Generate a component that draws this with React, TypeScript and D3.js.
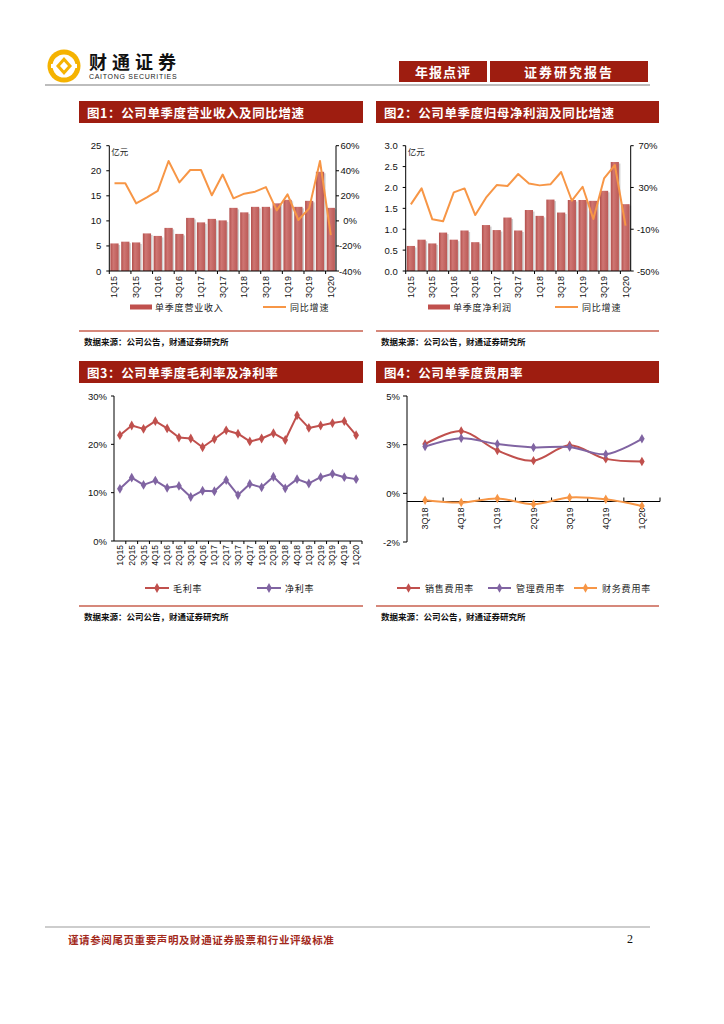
import React from "react";
import * as d3 from "d3";

const quarters = ["1Q15", "2Q15", "3Q15", "4Q15", "1Q16", "2Q16", "3Q16", "4Q16", "1Q17", "2Q17", "3Q17", "4Q17", "1Q18", "2Q18", "3Q18", "4Q18", "1Q19", "2Q19", "3Q19", "4Q19", "1Q20"];

// 图1
const revenue = [5.5, 5.85, 5.7, 7.5, 7.0, 8.6, 7.4, 10.6, 9.7, 10.4, 10.1, 12.6, 11.7, 12.8, 12.8, 13.5, 14.2, 12.8, 14.0, 19.8, 12.6];
const revenueYoy = [30, 30, 14, 18.8, 24, 47.8, 30.7, 40.6, 40.6, 20.4, 37, 18, 21.7, 23.3, 27, 8.4, 21.2, 0.7, 10, 47.8, -11.3];
const revenueTicks = [0, 5, 10, 15, 20, 25];
const revenueYoyTicks = [-40, -20, 0, 20, 40, 60];

// 图2
const netProfit = [0.6, 0.75, 0.66, 0.92, 0.75, 0.97, 0.69, 1.1, 0.98, 1.28, 0.97, 1.46, 1.32, 1.71, 1.4, 1.7, 1.7, 1.68, 1.92, 2.61, 1.6];
const netProfitYoy = [13.8, 29.1, -0.5, -2.4, 25.3, 29.1, 3.6, 20.2, 32.3, 31.4, 42.9, 33.9, 32, 33, 44.8, 17.3, 30.7, -0.2, 38.7, 51.5, -6.6];
const netProfitTicks = [0, 0.5, 1, 1.5, 2, 2.5, 3];
const netProfitYoyTicks = [-50, -10, 30, 70];

// 图3
const grossMargin = [21.9, 23.9, 23.2, 24.8, 23.3, 21.4, 21.2, 19.4, 21.1, 22.9, 22.2, 20.6, 21.2, 22.3, 20.9, 26.0, 23.4, 23.9, 24.4, 24.8, 21.9];
const netMargin = [10.8, 13.1, 11.6, 12.5, 11.0, 11.4, 9.1, 10.4, 10.3, 12.6, 9.5, 11.8, 11.1, 13.3, 10.9, 12.8, 11.9, 13.2, 13.9, 13.2, 12.8];
const marginTicks = [0, 10, 20, 30];

// 图4
const recentQuarters = ["3Q18", "4Q18", "1Q19", "2Q19", "3Q19", "4Q19", "1Q20"];
const sellingRate = [2.53, 3.2, 2.2, 1.68, 2.47, 1.77, 1.64];
const adminRate = [2.4, 2.83, 2.53, 2.36, 2.38, 2.01, 2.8];
const financeRate = [-0.35, -0.47, -0.26, -0.56, -0.21, -0.31, -0.65];
const rateTickValues = [-2.5, 0, 2.5, 5];
const rateTickLabels = ["-2%", "0%", "3%", "5%"];

const NUM = "'Liberation Sans', Arial, sans-serif";
const CN = "'Noto Sans CJK SC', 'Noto Sans CJK JP', sans-serif";
const BANNER = "#9e1d10";
const RED = "#c0504d";
const PURPLE = "#8064a2";
const ORANGE = "#f79646";

function Banner({ x, y, w, title }: { x: number; y: number; w: number; title: string }) {
  return (
    <g>
      <rect x={x} y={y} width={w} height={22} fill={BANNER} />
      <text x={x + 8} y={y + 11.5} fill="#fff" fontFamily={CN} fontSize={12.5} fontWeight={700} dominantBaseline="central" letterSpacing={0.6}>
        {title}
      </text>
    </g>
  );
}

function Source({ x, y, w }: { x: number; y: number; w: number }) {
  return (
    <g>
      <line x1={x} x2={x + w} y1={y} y2={y} stroke="#c8604f" strokeWidth={1.5} />
      <text x={x + 5} y={y + 10} fontFamily={CN} fontSize={8.5} fontWeight={700} fill="#111" dominantBaseline="central">
        数据来源：公司公告，财通证券研究所
      </text>
    </g>
  );
}

function BarLineChart({
  left, right, top, bottom, bars, line, barTicks, lineTicks, barFmt, lineLabelX, barLabel, legendBarX, legendLineX,
}: {
  left: number; right: number; top: number; bottom: number;
  bars: number[]; line: number[]; barTicks: number[]; lineTicks: number[];
  barFmt: (v: number) => string; lineLabelX: number; barLabel: string;
  legendBarX: number; legendLineX: number;
}) {
  const x = d3.scaleBand<string>().domain(quarters).range([left, right]).paddingInner(0.24).paddingOuter(0.1);
  const y = d3.scaleLinear().domain([barTicks[0], barTicks[barTicks.length - 1]]).range([bottom, top]);
  const y2 = d3.scaleLinear().domain([lineTicks[0], lineTicks[lineTicks.length - 1]]).range([bottom, top]);
  const path = d3.line<number>().x((_, i) => x(quarters[i])! + x.bandwidth() / 2).y((d) => y2(d))(line) ?? "";
  const step = x.step();
  const legendY = bottom + 36;
  return (
    <g>
      {bars.map((v, i) => (
        <rect key={`s${i}`} x={x(quarters[i])! + 1.5} y={y(v) + 1.5} width={x.bandwidth()} height={bottom - y(v) - 1.5} fill="#cfcfcf" />
      ))}
      {bars.map((v, i) => (
        <rect key={`b${i}`} x={x(quarters[i])!} y={y(v)} width={x.bandwidth()} height={bottom - y(v)} fill="url(#barGrad)" />
      ))}
      <path d={path} fill="none" stroke={ORANGE} strokeWidth={2} strokeLinejoin="round" />
      {/* axes */}
      <line x1={left} x2={left} y1={top} y2={bottom} stroke="#000" />
      <line x1={right} x2={right} y1={top} y2={bottom} stroke="#000" />
      <line x1={left} x2={right} y1={bottom} y2={bottom} stroke="#000" />
      {barTicks.map((t) => (
        <g key={`l${t}`}>
          <line x1={left - 3} x2={left} y1={y(t)} y2={y(t)} stroke="#000" />
          <text x={left - 8} y={y(t)} textAnchor="end" dominantBaseline="central" fontFamily={NUM} fontSize={9.5} fill="#111">
            {barFmt(t)}
          </text>
        </g>
      ))}
      {lineTicks.map((t) => (
        <g key={`r${t}`}>
          <line x1={right} x2={right + 3} y1={y2(t)} y2={y2(t)} stroke="#000" />
          <text x={lineLabelX} y={y2(t)} textAnchor="middle" dominantBaseline="central" fontFamily={NUM} fontSize={9.5} fill="#111">
            {`${t}%`}
          </text>
        </g>
      ))}
      {quarters.map((q, i) =>
        i % 2 === 0 ? (
          <g key={q}>
            <line x1={left + step * i} x2={left + step * i} y1={bottom} y2={bottom + 3} stroke="#000" />
            <text
              transform={`translate(${x(q)! + x.bandwidth() / 2},${bottom + 5}) rotate(-90)`}
              textAnchor="end"
              dominantBaseline="central"
              fontFamily={NUM}
              fontSize={9}
              fill="#111"
            >
              {q}
            </text>
          </g>
        ) : null
      )}
      <text x={left + 2} y={top + 5} fontFamily={CN} fontSize={8.5} fill="#222" dominantBaseline="central">亿元</text>
      {/* legend */}
      <rect x={legendBarX} y={legendY - 2.5} width={22} height={5} fill={RED} />
      <text x={legendBarX + 25} y={legendY} fontFamily={CN} fontSize={9} fill="#222" dominantBaseline="central" letterSpacing={0.8}>{barLabel}</text>
      <line x1={legendLineX} x2={legendLineX + 23} y1={legendY} y2={legendY} stroke={ORANGE} strokeWidth={2} />
      <text x={legendLineX + 27} y={legendY} fontFamily={CN} fontSize={9} fill="#222" dominantBaseline="central" letterSpacing={0.8}>同比增速</text>
    </g>
  );
}

function MarginChart() {
  const left = 114, right = 362, top = 396, bottom = 541;
  const x = d3.scaleBand<string>().domain(quarters).range([left, right]);
  const y = d3.scaleLinear().domain([0, 30]).range([bottom, top]);
  const cx = (i: number) => x(quarters[i])! + x.bandwidth() / 2;
  const line = d3.line<number>().x((_, i) => cx(i)).y((d) => y(d));
  const diamond = d3.symbol(d3.symbolDiamond, 28)() ?? "";
  const series = [
    { name: "毛利率", values: grossMargin, color: RED, lx: 145 },
    { name: "净利率", values: netMargin, color: PURPLE, lx: 257 },
  ];
  return (
    <g>
      <line x1={left} x2={left} y1={top} y2={bottom} stroke="#000" />
      <line x1={left} x2={right} y1={bottom} y2={bottom} stroke="#000" />
      {marginTicks.map((t) => (
        <g key={t}>
          <line x1={left - 3} x2={left} y1={y(t)} y2={y(t)} stroke="#000" />
          <text x={left - 7} y={y(t)} textAnchor="end" dominantBaseline="central" fontFamily={NUM} fontSize={9.5} fill="#111">{`${t}%`}</text>
        </g>
      ))}
      {quarters.map((q, i) => (
        <g key={q}>
          <line x1={x(q)! + x.step()} x2={x(q)! + x.step()} y1={bottom} y2={bottom + 3} stroke="#000" />
          <text transform={`translate(${cx(i)},${bottom + 4}) rotate(-90)`} textAnchor="end" dominantBaseline="central" fontFamily={NUM} fontSize={8.5} fill="#111">{q}</text>
        </g>
      ))}
      {series.map((s) => (
        <g key={s.name}>
          <path d={line(s.values) ?? ""} fill="none" stroke={s.color} strokeWidth={2} strokeLinejoin="round" />
          {s.values.map((v, i) => (
            <path key={i} d={diamond} transform={`translate(${cx(i)},${y(v)})`} fill={s.color} />
          ))}
          <line x1={s.lx} x2={s.lx + 24} y1={588} y2={588} stroke={s.color} strokeWidth={2} />
          <path d={diamond} transform={`translate(${s.lx + 12},588)`} fill={s.color} />
          <text x={s.lx + 28} y={588} fontFamily={CN} fontSize={9} fill="#222" dominantBaseline="central" letterSpacing={0.8}>{s.name}</text>
        </g>
      ))}
    </g>
  );
}

function RateChart() {
  const left = 407, right = 660, top = 396, bottom = 542;
  const x = d3.scaleBand<string>().domain(recentQuarters).range([left, right]);
  const y = d3.scaleLinear().domain([rateTickValues[0], rateTickValues[rateTickValues.length - 1]]).range([bottom, top]);
  const axisY = y(-0.42);
  const cx = (i: number) => x(recentQuarters[i])! + x.bandwidth() / 2;
  const line = d3.line<number>().x((_, i) => cx(i)).y((d) => y(d)).curve(d3.curveCatmullRom.alpha(0.5));
  const diamond = d3.symbol(d3.symbolDiamond, 26)() ?? "";
  const series = [
    { name: "销售费用率", values: sellingRate, color: RED, lx: 397 },
    { name: "管理费用率", values: adminRate, color: PURPLE, lx: 488 },
    { name: "财务费用率", values: financeRate, color: ORANGE, lx: 574 },
  ];
  return (
    <g>
      <line x1={left} x2={left} y1={top} y2={bottom} stroke="#000" />
      <line x1={left} x2={right} y1={axisY} y2={axisY} stroke="#000" />
      {rateTickValues.map((t, i) => (
        <g key={t}>
          <line x1={left - 4} x2={left} y1={y(t)} y2={y(t)} stroke="#000" />
          <text x={left - 7} y={y(t)} textAnchor="end" dominantBaseline="central" fontFamily={NUM} fontSize={9.5} fill="#111">{rateTickLabels[i]}</text>
        </g>
      ))}
      {recentQuarters.map((q, i) => (
        <g key={q}>
          <line x1={x(q)! + x.step()} x2={x(q)! + x.step()} y1={axisY - 4} y2={axisY} stroke="#000" />
          <text transform={`translate(${cx(i)},${axisY + 6}) rotate(-90)`} textAnchor="end" dominantBaseline="central" fontFamily={NUM} fontSize={9} fill="#111">{q}</text>
        </g>
      ))}
      {series.map((s) => (
        <g key={s.name}>
          <path d={line(s.values) ?? ""} fill="none" stroke={s.color} strokeWidth={2} />
          {s.values.map((v, i) => (
            <path key={i} d={diamond} transform={`translate(${cx(i)},${y(v)})`} fill={s.color} />
          ))}
          <line x1={s.lx} x2={s.lx + 23} y1={588} y2={588} stroke={s.color} strokeWidth={2} />
          <path d={diamond} transform={`translate(${s.lx + 11.5},588)`} fill={s.color} />
          <text x={s.lx + 28} y={588} fontFamily={CN} fontSize={9} fill="#222" dominantBaseline="central" letterSpacing={0.8}>{s.name}</text>
        </g>
      ))}
    </g>
  );
}

function Header() {
  return (
    <g>
      {/* logo */}
      <g transform="translate(64,66)">
        <circle r={16.5} fill="#f5b301" />
        <circle r={11.5} fill="#fff" />
        <rect x={-13} y={-2} width={26} height={4} fill="#fff" />
        <path d="M0,-9 L8,0 L0,9 L-8,0 Z" fill="#f5b301" />
        <path d="M0,-4.5 L4,0 L0,4.5 L-4,0 Z" fill="#fff" />
      </g>
      <text x={89} y={60.5} fontFamily={CN} fontSize={18} fontWeight={700} fill="#111" dominantBaseline="central" letterSpacing={5}>财通证券</text>
      <text x={89} y={76.5} fontFamily={NUM} fontSize={7} fill="#222" dominantBaseline="central" letterSpacing={0.7}>CAITONG SECURITIES</text>
      <rect x={399} y={61} width={88} height={21} fill={BANNER} />
      <text x={443} y={71.5} textAnchor="middle" fontFamily={CN} fontSize={13} fontWeight={700} fill="#fff" dominantBaseline="central" letterSpacing={1}>年报点评</text>
      <rect x={490} y={61} width={158} height={21} fill={BANNER} />
      <text x={569} y={71.5} textAnchor="middle" fontFamily={CN} fontSize={13} fontWeight={700} fill="#fff" dominantBaseline="central" letterSpacing={2}>证券研究报告</text>
      <line x1={45} x2={650} y1={85} y2={85} stroke="#bdbdbd" strokeWidth={2} />
    </g>
  );
}

export default function App() {
  return (
    <svg width={724} height={1024} viewBox="0 0 724 1024" style={{ position: "absolute", left: 0, top: 0, background: "#fff" }}>
      <defs>
        <linearGradient id="barGrad" x1="0" x2="1" y1="0" y2="0">
          <stop offset="0%" stopColor="#b24f4c" />
          <stop offset="35%" stopColor="#cf7673" />
          <stop offset="100%" stopColor="#ba5956" />
        </linearGradient>
      </defs>
      <Header />

      <Banner x={79} y={101} w={284} title="图1：公司单季度营业收入及同比增速" />
      <Banner x={376} y={101} w={283} title="图2：公司单季度归母净利润及同比增速" />
      <BarLineChart
        left={109.3} right={336} top={145.7} bottom={271}
        bars={revenue} line={revenueYoy} barTicks={revenueTicks} lineTicks={revenueYoyTicks}
        barFmt={(v) => `${v}`} lineLabelX={350} barLabel="单季度营业收入" legendBarX={130} legendLineX={263}
      />
      <BarLineChart
        left={405.7} right={630.7} top={145.7} bottom={271}
        bars={netProfit} line={netProfitYoy} barTicks={netProfitTicks} lineTicks={netProfitYoyTicks}
        barFmt={(v) => v.toFixed(1)} lineLabelX={648} barLabel="单季度净利润" legendBarX={428} legendLineX={555}
      />
      <Source x={79} y={331} w={284} />
      <Source x={376} y={331} w={283} />

      <Banner x={79} y={361} w={284} title="图3：公司单季度毛利率及净利率" />
      <Banner x={376} y={361} w={283} title="图4：公司单季度费用率" />
      <MarginChart />
      <RateChart />
      <Source x={79} y={606} w={284} />
      <Source x={376} y={606} w={283} />

      <line x1={45} x2={650} y1={927} y2={927} stroke="#bdbdbd" strokeWidth={1.5} />
      <text x={68} y={939} fontFamily={CN} fontSize={10.5} fontWeight={700} fill="#a32a1c" dominantBaseline="central" letterSpacing={0.6}>
        谨请参阅尾页重要声明及财通证券股票和行业评级标准
      </text>
      <text x={627} y={939} fontFamily="'Liberation Serif', serif" fontSize={12} fill="#111" dominantBaseline="central">2</text>
    </svg>
  );
}
